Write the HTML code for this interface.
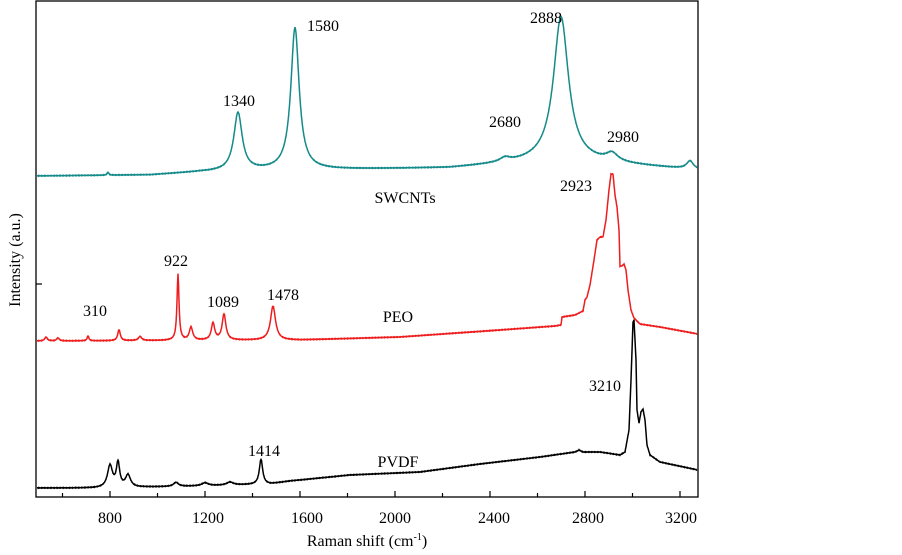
<!DOCTYPE html>
<html><head><meta charset="utf-8"><style>
body{margin:0;background:#fff;}
svg text{font-family:"Liberation Serif",serif;font-size:16px;fill:#000;}
</style></head><body>
<svg id="s" width="902" height="550" viewBox="0 0 902 550" xmlns="http://www.w3.org/2000/svg">
<rect x="36" y="1" width="662" height="496" fill="none" stroke="#000" stroke-width="1.3"/>
<g id="ticks" stroke="#000" stroke-width="1.2"></g>
<line x1="36" y1="284" x2="42" y2="284" stroke="#000" stroke-width="1.2"/>
<path id="p1" fill="none" stroke="#148a8a" stroke-width="1.5"/>
<path id="p2" fill="none" stroke="#ee1c1c" stroke-width="1.5"/>
<path id="p3" fill="none" stroke="#000" stroke-width="1.5"/>
<g text-anchor="middle">
<text x="110" y="523">800</text><text x="208" y="523">1200</text><text x="307" y="523">1600</text>
<text x="395" y="523">2000</text><text x="494" y="523">2400</text><text x="588" y="523">2800</text><text x="681" y="523">3200</text>
<text x="367" y="546">Raman shift (cm<tspan font-size="10" dy="-6">-1</tspan><tspan dy="6">)</tspan></text>
<text transform="translate(20,260) rotate(-90)">Intensity (a.u.)</text>
<text x="239" y="106">1340</text><text x="323" y="31">1580</text><text x="546" y="23">2888</text>
<text x="505" y="127">2680</text><text x="623" y="142">2980</text><text x="405" y="203">SWCNTs</text>
<text x="176" y="266">922</text><text x="95" y="316">310</text><text x="223" y="307">1089</text>
<text x="283" y="300">1478</text><text x="398" y="322">PEO</text><text x="576" y="191">2923</text>
<text x="264" y="456">1414</text><text x="398" y="467">PVDF</text><text x="605" y="391">3210</text>
</g>
</svg>
<script>
var t=document.getElementById('ticks'),h='';
for(var v=600;v<=3200;v+=200){var x=110+(v-800)*0.2375;h+='<line x1="'+x+'" y1="497" x2="'+x+'" y2="'+(v%400==0?491:493)+'"/>';}
t.innerHTML=h;
function interp(pts,x){for(var i=0;i<pts.length-1;i++){if(x>=pts[i][0]&&x<=pts[i+1][0]){var f=(x-pts[i][0])/(pts[i+1][0]-pts[i][0]);return pts[i][1]+f*(pts[i+1][1]-pts[i][1]);}}return pts[pts.length-1][1];}
function mk(id,base,peaks){var d='';for(var x=37;x<=697;x+=0.5){var y=interp(base,x);for(var k=0;k<peaks.length;k++){var p=peaks[k],u=(x-p[0])/p[2];y-=p[1]/(1+u*u);}y+=Math.sin(x*7.3)*0.3;d+=(d?'L':'M')+x.toFixed(1)+' '+y.toFixed(1);}document.getElementById(id).setAttribute('d',d);}
mk('p1',[[36,176],[150,175],[200,172],[300,170],[450,168],[560,160],[698,170]],
[[238,58,5],[295,142,5],[561,143,9],[505,4,6],[612,8,7],[690,8,4],[108,3,1]]);
mk('p2',[[36,341],[300,340],[400,337],[500,330],[555,326],[561,325],[562,317],[575,315],[579,313],[581,312],[583,311],[585,300],[587,297],[590,285],[594,260],[597,240],[600,237],[603,237],[606,220],[609,190],[611,174],[613,174],[615,195],[617,207],[619,230],[620,266],[622,266],[624,264],[626,270],[628,290],[631,310],[634,318],[640,324],[660,327],[698,334]],
[[178,66,1.2],[224,26,2.2],[273,34,3],[213,17,2],[191,13,2],[119,11,1.5],[88,5,1],[140,4,2],[46,4,1.5],[58,3,1.5]]);
mk('p3',[[36,488],[100,488],[200,486],[270,484],[290,481],[350,475],[420,472],[480,464],[540,457],[575,452],[579,450],[583,452],[600,452],[620,455],[625,452],[629,430],[631,380],[633,322],[634,320],[636,360],[637,410],[639,423],[641,412],[643,409],[645,420],[647,445],[650,455],[660,462],[698,470]],
[[110,22,3],[118,24,2],[128,12,3],[261,25,2],[176,4,3],[205,3,4],[230,3,4]]);
</script>
</body></html>
